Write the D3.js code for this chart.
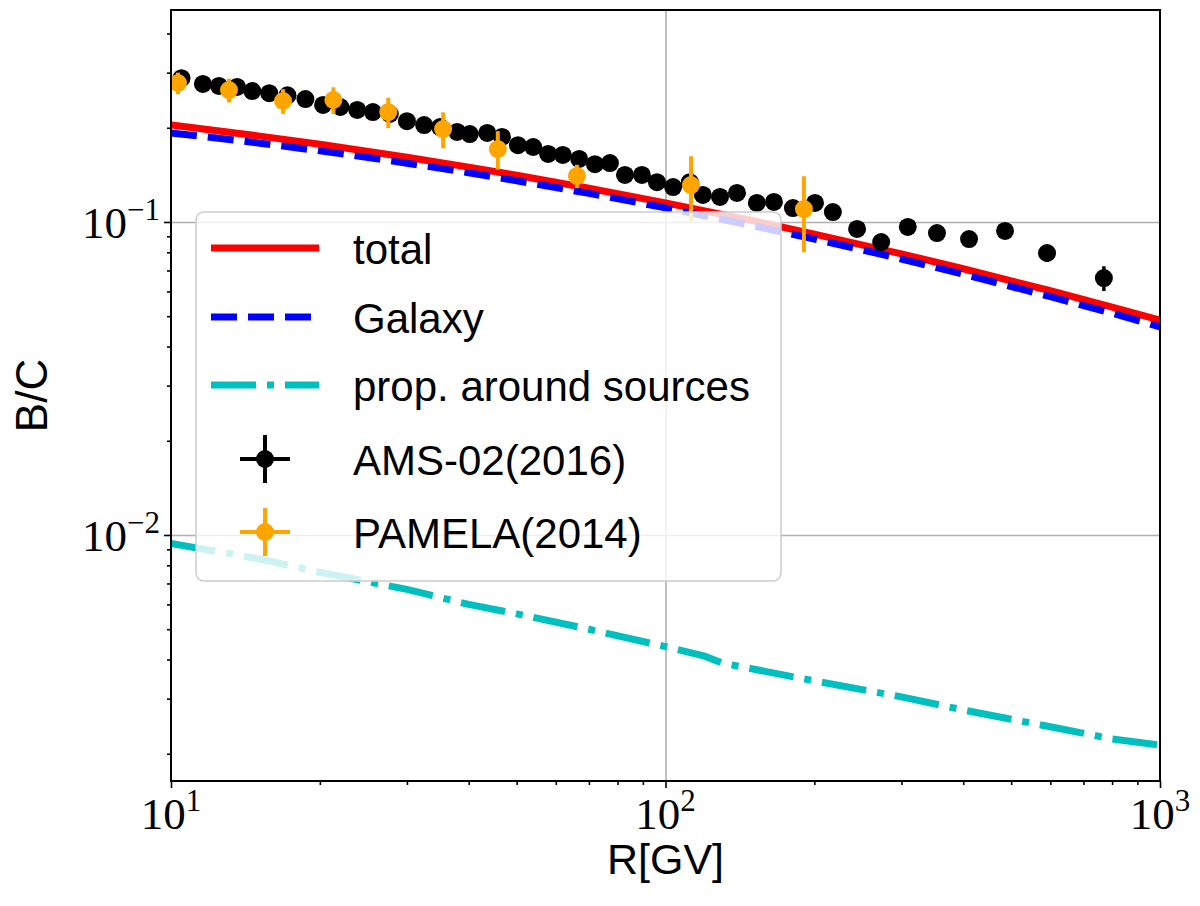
<!DOCTYPE html>
<html>
<head>
<meta charset="utf-8">
<script src="https://cdn.jsdelivr.net/npm/d3@7"></script>
<style>
body { margin: 0; background: #fff; }
</style>
</head>
<body>
<svg id="chart" width="1200" height="906"></svg>
<script>
// model curves
const modelR   = [10, 15, 20, 30, 40, 50, 70, 100, 150, 200, 300, 400, 600, 800, 1000];
const totalBC  = [0.2042, 0.1884, 0.1771, 0.1609, 0.1497, 0.1410, 0.1281, 0.1151, 0.1010, 0.0915, 0.0791, 0.0709, 0.0603, 0.0535, 0.0486];
const galaxyBC = [0.1925, 0.1789, 0.1687, 0.1541, 0.1436, 0.1354, 0.1234, 0.1109, 0.0973, 0.0882, 0.0761, 0.0681, 0.0577, 0.0511, 0.0462];

const sourceR  = [10, 15, 20, 30, 40, 50, 70, 100, 120, 130, 200, 300, 400, 600, 800, 1000];
const sourceBC = [0.0094, 0.0084, 0.0076, 0.0067, 0.0060, 0.0056, 0.0050, 0.0044, 0.0041, 0.0039, 0.00342, 0.00304, 0.00276, 0.00244, 0.00223, 0.00213];

// AMS-02 (2016)
const amsR = [10.5, 11.6, 12.5, 13.6, 14.6, 15.8, 17.2, 18.7, 20.3, 22.0, 23.8, 25.6, 27.7, 30.0, 32.5, 35.0,
              37.9, 40.2, 43.6, 46.7, 50.3, 54.0, 57.9, 62.0, 66.9, 72.0, 77.2, 82.8, 89.6, 96.1, 103.6, 112,
              119, 128.9, 139.5, 153, 165.7, 181, 200.6, 218, 244, 273, 309, 354, 411, 486, 591, 770];
const amsBC = [0.288, 0.276, 0.272, 0.270, 0.262, 0.258, 0.254, 0.247, 0.2365, 0.233, 0.228, 0.2245, 0.2213, 0.210, 0.204, 0.201,
               0.194, 0.191, 0.1925, 0.187, 0.176, 0.1736, 0.165, 0.1637, 0.159, 0.153, 0.1543, 0.1413, 0.1413, 0.134, 0.1293, 0.134,
               0.122, 0.1202, 0.1238, 0.115, 0.1159, 0.1108, 0.115, 0.1076, 0.0950, 0.0863, 0.0964, 0.0922, 0.0882, 0.0936, 0.0796, 0.0662];
const amsErr = [0.004, 0.004, 0.004, 0.004, 0.004, 0.004, 0.004, 0.004, 0.004, 0.004, 0.004, 0.004, 0.004, 0.004, 0.004, 0.004,
                0.003, 0.003, 0.003, 0.003, 0.003, 0.003, 0.003, 0.003, 0.003, 0.003, 0.003, 0.003, 0.003, 0.003, 0.003, 0.003,
                0.003, 0.003, 0.003, 0.003, 0.003, 0.003, 0.003, 0.003, 0.003, 0.003, 0.003, 0.003, 0.003, 0.004, 0.005, 0.006];

// PAMELA (2014)
const pamR   = [10.33, 13.1, 16.85, 21.3, 27.5, 35.5, 45.8, 66.2, 112.6, 190.5];
const pamBC  = [0.278, 0.264, 0.2435, 0.2454, 0.2245, 0.198, 0.171, 0.1403, 0.1312, 0.110];
const pamErr = [0.022, 0.023, 0.022, 0.024, 0.025, 0.026, 0.024, 0.012, 0.031, 0.030];

const xMajor = [10, 100, 1000];
const xMajorExp = ["1", "2", "3"];
const yMajor = [0.01, 0.1];
const yMajorExp = ["\u22122", "\u22121"];

const legendNames = ["total", "Galaxy", "prop. around sources", "AMS-02(2016)", "PAMELA(2014)"];

function dograph() {
    let svg = d3.select("#chart");
    let left = 171, right = 1160, top = 10, bottom = 781;
    let serif = "'Liberation Serif', 'DejaVu Serif', serif";
    let sans = "'Liberation Sans', 'DejaVu Sans', sans-serif";

    let x = d3.scaleLog().domain([10, 1000]).range([left, right]);
    let y = d3.scaleLog().domain([0.001637, 0.4756]).range([bottom, top]);

    // major grid
    let grid = svg.append("g").attr("class", "grid");
    grid.append("g")
        .attr("transform", "translate(0," + bottom + ")")
        .call(d3.axisBottom(x).tickValues([100]).tickSize(-(bottom - top)).tickFormat(""));
    grid.append("g")
        .attr("transform", "translate(" + left + ",0)")
        .call(d3.axisLeft(y).tickValues(yMajor).tickSize(-(right - left)).tickFormat(""));
    grid.selectAll(".domain").remove();
    grid.selectAll("line").attr("stroke", "#b0b0b0").attr("stroke-width", 1.6);

    svg.append("clipPath").attr("id", "plotclip")
        .append("rect").attr("x", left).attr("y", top)
        .attr("width", right - left).attr("height", bottom - top);

    let plot = svg.append("g").attr("clip-path", "url(#plotclip)");

    let smooth = d3.line().x(d => x(d[0])).y(d => y(d[1])).curve(d3.curveMonotoneX);
    let straight = d3.line().x(d => x(d[0])).y(d => y(d[1]));

    plot.append("path")
        .datum(d3.zip(modelR, totalBC))
        .attr("d", smooth)
        .attr("fill", "none").attr("stroke", "#ff0000").attr("stroke-width", 7);
    plot.append("path")
        .datum(d3.zip(modelR, galaxyBC))
        .attr("d", smooth)
        .attr("fill", "none").attr("stroke", "#0000ff").attr("stroke-width", 7)
        .attr("stroke-dasharray", "26,11");
    plot.append("path")
        .datum(d3.zip(sourceR, sourceBC))
        .attr("d", straight)
        .attr("fill", "none").attr("stroke", "#00bfbf").attr("stroke-width", 7)
        .attr("stroke-dasharray", "45,11,7,11");

    function errorbars(R, V, E, color, width) {
        let data = d3.zip(R, V, E);
        let g = plot.append("g");
        g.selectAll("line").data(data).enter().append("line")
            .attr("x1", d => x(d[0])).attr("x2", d => x(d[0]))
            .attr("y1", d => y(d[1] + d[2])).attr("y2", d => y(d[1] - d[2]))
            .attr("stroke", color).attr("stroke-width", width);
        g.selectAll("circle").data(data).enter().append("circle")
            .attr("cx", d => x(d[0])).attr("cy", d => y(d[1])).attr("r", 9)
            .attr("fill", color);
    }
    errorbars(amsR, amsBC, amsErr, "#000000", 3.5);
    errorbars(pamR, pamBC, pamErr, "#ffa500", 4);

    // ticks
    let minorX = x.ticks().filter(v => xMajor.indexOf(v) < 0);
    let minorY = y.ticks().filter(v => Math.abs(Math.log10(v) - Math.round(Math.log10(v))) > 1e-6);

    let axes = svg.append("g").attr("class", "axes");
    let xAxis = axes.append("g").attr("transform", "translate(0," + bottom + ")");
    xAxis.append("g").call(d3.axisBottom(x).tickValues(minorX).tickSize(4).tickFormat(""));
    xAxis.append("g").call(d3.axisBottom(x).tickValues(xMajor).tickSize(7).tickFormat(""));
    let yAxis = axes.append("g").attr("transform", "translate(" + left + ",0)");
    yAxis.append("g").call(d3.axisLeft(y).tickValues(minorY).tickSize(4).tickFormat(""));
    yAxis.append("g").call(d3.axisLeft(y).tickValues(yMajor).tickSize(7).tickFormat(""));
    axes.selectAll(".tick line").attr("stroke", "#000").attr("stroke-width", 1.6);
    axes.selectAll(".domain").remove();

    // frame
    svg.append("rect")
        .attr("x", left).attr("y", top)
        .attr("width", right - left).attr("height", bottom - top)
        .attr("fill", "none").attr("stroke", "#000").attr("stroke-width", 2);

    // tick labels
    xMajor.forEach(function(v, i) {
        let t = svg.append("text")
            .attr("x", x(v)).attr("y", 829)
            .attr("text-anchor", "middle")
            .attr("font-family", serif).attr("font-size", 45);
        t.append("tspan").text("10");
        t.append("tspan").attr("dy", -18).attr("font-size", 31).text(xMajorExp[i]);
    });
    yMajor.forEach(function(v, i) {
        let t = svg.append("text")
            .attr("x", left - 11).attr("y", y(v) + 16)
            .attr("text-anchor", "end")
            .attr("font-family", serif).attr("font-size", 45);
        t.append("tspan").text("10");
        t.append("tspan").attr("dy", -18).attr("font-size", 31).text(yMajorExp[i]);
    });

    // axis labels
    svg.append("text")
        .attr("transform", "translate(47," + ((top + bottom) / 2) + ") rotate(-90)")
        .attr("text-anchor", "middle")
        .attr("font-family", sans).attr("font-size", 44)
        .text("B/C");
    svg.append("text")
        .attr("x", (left + right) / 2).attr("y", 874)
        .attr("text-anchor", "middle")
        .attr("font-family", sans).attr("font-size", 43)
        .text("R[GV]");

    // legend
    let lg = svg.append("g");
    lg.append("rect")
        .attr("x", 196).attr("y", 212).attr("width", 585).attr("height", 369)
        .attr("rx", 8).attr("ry", 8)
        .attr("fill", "#fff").attr("fill-opacity", 0.8)
        .attr("stroke", "#cccccc").attr("stroke-width", 1.5);

    let rows = [248, 317, 385, 459, 532];
    let handles = [
        {type: "line", color: "#ff0000", dash: null},
        {type: "line", color: "#0000ff", dash: "26,11"},
        {type: "line", color: "#00bfbf", dash: "45,11,7,11"},
        {type: "err", color: "#000000"},
        {type: "err", color: "#ffa500"}
    ];
    handles.forEach(function(h, i) {
        let cy = rows[i];
        if (h.type === "line") {
            lg.append("line")
                .attr("x1", 211).attr("x2", 319).attr("y1", cy).attr("y2", cy)
                .attr("stroke", h.color).attr("stroke-width", 7)
                .attr("stroke-dasharray", h.dash);
        } else {
            lg.append("line").attr("x1", 240).attr("x2", 290).attr("y1", cy).attr("y2", cy)
                .attr("stroke", h.color).attr("stroke-width", 4);
            lg.append("line").attr("x1", 265).attr("x2", 265).attr("y1", cy - 24).attr("y2", cy + 24)
                .attr("stroke", h.color).attr("stroke-width", 4);
            lg.append("circle").attr("cx", 265).attr("cy", cy).attr("r", 9).attr("fill", h.color);
        }
        lg.append("text")
            .attr("x", 353).attr("y", cy + 16)
            .attr("font-family", sans).attr("font-size", 42)
            .attr("xml:space", "preserve")
            .text(legendNames[i]);
    });
}

document.addEventListener("DOMContentLoaded", dograph);
</script>
</body>
</html>
